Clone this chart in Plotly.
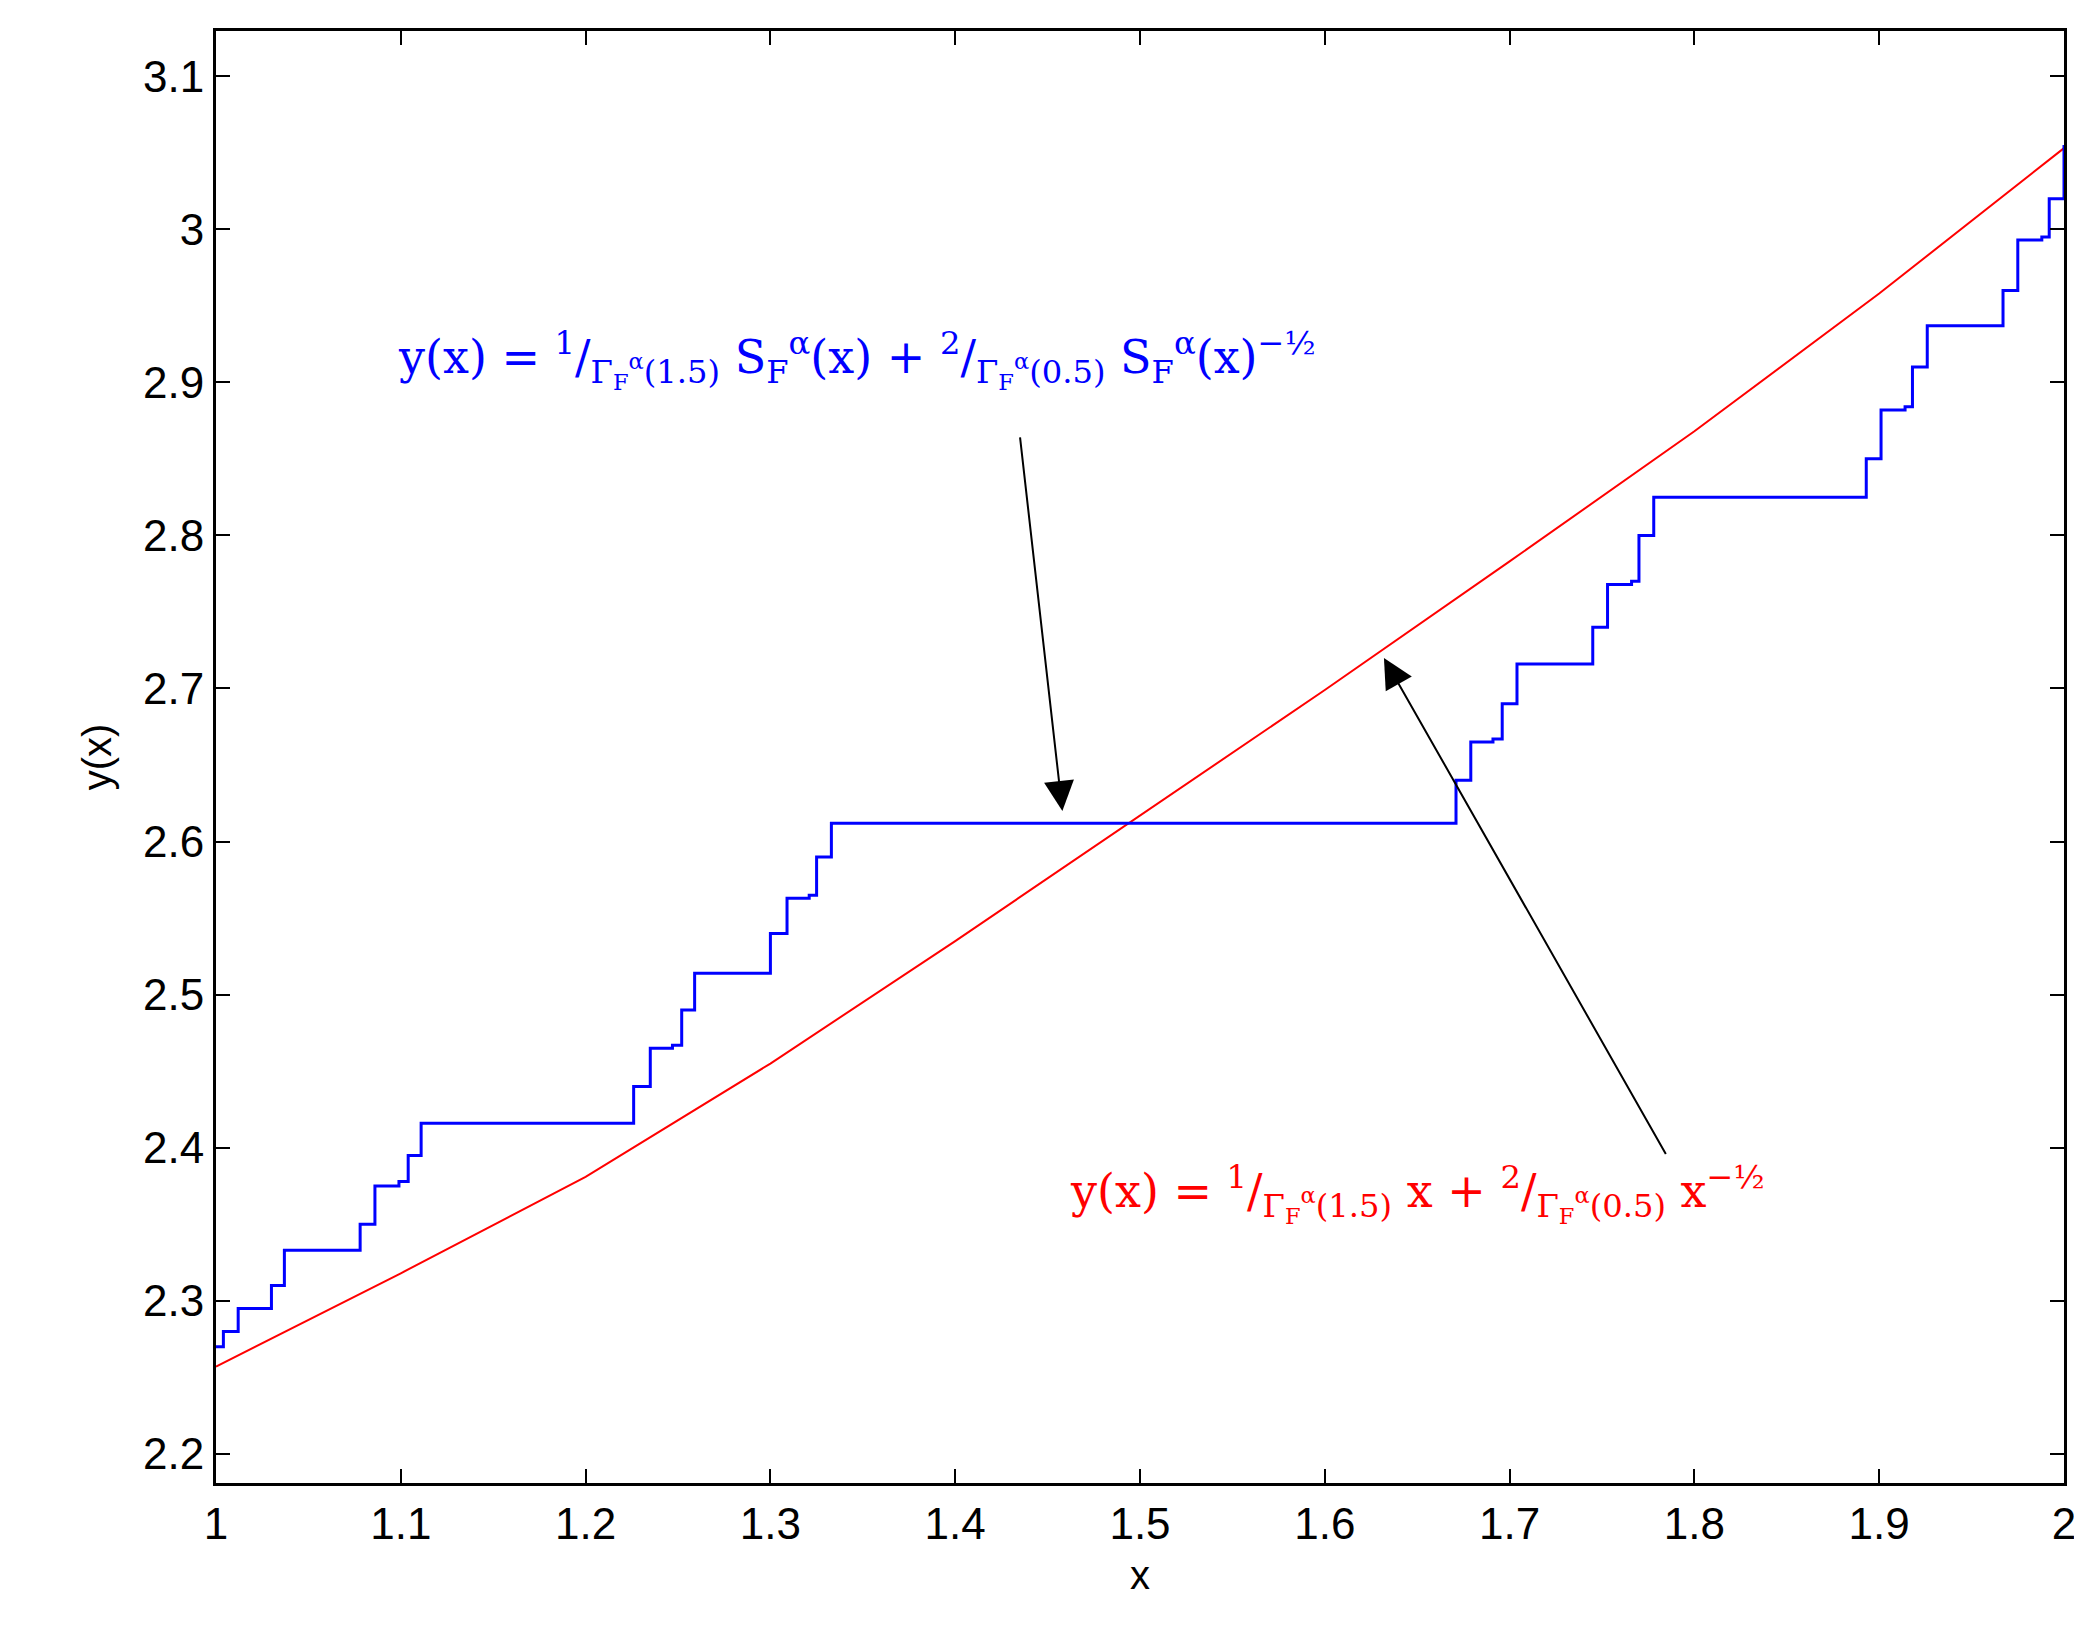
import plotly.graph_objects as go

# staircase curve (corner points, drawn with hv steps)
stair_x = [1.0, 1.004, 1.012, 1.025, 1.03, 1.037, 1.074, 1.078, 1.086, 1.099, 1.104, 1.111,
           1.222, 1.226, 1.235, 1.247, 1.252, 1.259, 1.296, 1.30, 1.309, 1.321, 1.325, 1.333,
           1.667, 1.671, 1.679, 1.691, 1.696, 1.704, 1.741, 1.745, 1.753, 1.766, 1.77, 1.778,
           1.889, 1.893, 1.901, 1.914, 1.918, 1.926, 1.963, 1.967, 1.975, 1.988, 1.992, 2.0]
stair_y = [2.27, 2.28, 2.295, 2.295, 2.31, 2.333, 2.333, 2.35, 2.375, 2.378, 2.395, 2.416,
           2.416, 2.44, 2.465, 2.467, 2.49, 2.514, 2.514, 2.54, 2.563, 2.565, 2.59, 2.612,
           2.612, 2.64, 2.665, 2.667, 2.69, 2.716, 2.716, 2.74, 2.768, 2.77, 2.80, 2.825,
           2.825, 2.85, 2.882, 2.884, 2.91, 2.937, 2.937, 2.96, 2.993, 2.995, 3.02, 3.055]

# smooth curve
smooth_x = [1.0, 1.1, 1.2, 1.3, 1.4, 1.5, 1.6, 1.7, 1.8, 1.9, 2.0]
smooth_y = [2.257, 2.318, 2.381, 2.455, 2.535, 2.617, 2.699, 2.783, 2.868, 2.958, 3.053]

fig = go.Figure()
fig.add_trace(go.Scatter(x=smooth_x, y=smooth_y, mode='lines', line=dict(color='red', width=2)))
fig.add_trace(go.Scatter(x=stair_x, y=stair_y, mode='lines', line=dict(color='blue', width=3), line_shape='hv'))

fig.add_annotation(x=1.347, y=2.915, xref='x', yref='y', showarrow=False,
                   text='y(x) = <sup>1</sup>/<sub>Γ<sub>F</sub><sup>α</sup>(1.5)</sub> S<sub>F</sub><sup>α</sup>(x) + <sup>2</sup>/<sub>Γ<sub>F</sub><sup>α</sup>(0.5)</sub> S<sub>F</sub><sup>α</sup>(x)<sup>−½</sup>',
                   font=dict(color='blue', size=46, family='DejaVu Serif'))
fig.add_annotation(x=1.65, y=2.37, xref='x', yref='y', showarrow=False,
                   text='y(x) = <sup>1</sup>/<sub>Γ<sub>F</sub><sup>α</sup>(1.5)</sub> x + <sup>2</sup>/<sub>Γ<sub>F</sub><sup>α</sup>(0.5)</sub> x<sup>−½</sup>',
                   font=dict(color='red', size=46, family='DejaVu Serif'))
fig.add_annotation(x=1.458, y=2.62, ax=1.435, ay=2.865, xref='x', yref='y', axref='x', ayref='y',
                   showarrow=True, arrowhead=2, arrowsize=3, arrowwidth=2, arrowcolor='black', text='')
fig.add_annotation(x=1.632, y=2.72, ax=1.785, ay=2.395, xref='x', yref='y', axref='x', ayref='y',
                   showarrow=True, arrowhead=2, arrowsize=3, arrowwidth=2, arrowcolor='black', text='')

axis_common = dict(showline=True, linecolor='black', linewidth=3, mirror='ticks', ticks='inside',
                   ticklen=14, tickwidth=2, tickcolor='black', showgrid=False, zeroline=False,
                   tickfont=dict(size=44, family='Liberation Sans', color='black'))
fig.update_xaxes(range=[1, 2], dtick=0.1, tickformat='.1~f',
                 title=dict(text='x', font=dict(size=40, family='Liberation Sans', color='black')), **axis_common)
fig.update_yaxes(range=[2.181, 3.1295], dtick=0.1, tickformat='.1~f',
                 title=dict(text='y(x)', font=dict(size=40, family='Liberation Sans', color='black'), standoff=20), **axis_common)
fig.update_layout(width=2082, height=1645, showlegend=False, plot_bgcolor='white', paper_bgcolor='white',
                  margin=dict(l=208, r=26, t=23, b=170))
fig.write_html("out.html")
